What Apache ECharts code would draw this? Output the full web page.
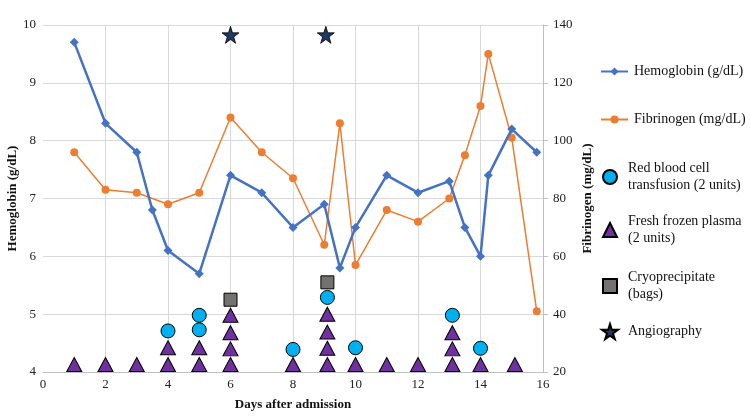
<!DOCTYPE html>
<html>
<head>
<meta charset="utf-8">
<script src="https://cdn.jsdelivr.net/npm/echarts@6/dist/echarts.min.js"></script>
<style>
  html, body { margin: 0; padding: 0; background: #fff; }
  #chart { width: 750px; height: 420px; }
</style>
</head>
<body>
<div id="chart"></div>
<script>
// hemoglobin (left axis, g/dL)
const hbDays = [1, 2, 3, 3.5, 4, 5, 6, 7, 8, 9, 9.5, 10, 11, 12, 13, 13.5, 14, 14.25, 15, 15.8];
const hbValues = [9.7, 8.3, 7.8, 6.8, 6.1, 5.7, 7.4, 7.1, 6.5, 6.9, 5.8, 6.5, 7.4, 7.1, 7.3, 6.5, 6.0, 7.4, 8.2, 7.8];
// fibrinogen (right axis, mg/dL)
const fibDays = [1, 2, 3, 4, 5, 6, 7, 8, 9, 9.5, 10, 11, 12, 13, 13.5, 14, 14.25, 15, 15.8];
const fibValues = [96, 83, 82, 78, 82, 108, 96, 87, 64, 106, 57, 76, 72, 80, 95, 112, 130, 101, 41];
// transfusion markers, stacked on left axis
const rbcDays = [4, 5, 5, 8, 9.1, 10, 13.1, 14];
const rbcLevels = [4.71, 4.73, 4.98, 4.39, 5.29, 4.42, 4.98, 4.41];
const ffpDays = [1, 2, 3, 4, 4, 5, 5, 6, 6, 6, 6, 8, 9.1, 9.1, 9.1, 9.1, 10, 11, 12, 13.1, 13.1, 13.1, 14, 15.1];
const ffpLevels = [4.13, 4.13, 4.13, 4.13, 4.42, 4.13, 4.42, 4.13, 4.4, 4.68, 4.98, 4.13, 4.13, 4.41, 4.69, 5.0, 4.13, 4.13, 4.13, 4.13, 4.4, 4.68, 4.13, 4.13];
const cryoDays = [6, 9.1];
const cryoLevels = [5.25, 5.55];
const angioDays = [6, 9.05];
const angioLevels = [9.83, 9.83];

const xTicks = [0, 16, 2];
const hbAxis = [4, 10, 1];
const fibAxis = [20, 140, 20];

const zip = (xs, ys) => xs.map((x, i) => [x, ys[i]]);
const serif = "Liberation Serif";
const starPath = "path://M50,0 L61,35 L98,35 L68,57 L79,91 L50,70 L21,91 L32,57 L2,35 L39,35 Z";

const names = {
  hb: "Hemoglobin (g/dL)",
  fib: "Fibrinogen (mg/dL)",
  rbc: "Red blood cell transfusion (2 units)",
  ffp: "Fresh frozen plasma (2 units)",
  cryo: "Cryoprecipitate (bags)",
  angio: "Angiography",
};
const legendText = {};
legendText[names.rbc] = "Red blood cell\ntransfusion (2 units)";
legendText[names.ffp] = "Fresh frozen plasma\n(2 units)";
legendText[names.cryo] = "Cryoprecipitate\n(bags)";

// legend box positions given as the icon's top-left, padding removed
const mkLegend = (name, left, top, w, h, pad) => ({
  data: [name],
  left: left,
  top: top,
  padding: 0,
  itemWidth: w,
  itemHeight: h,
  selectedMode: false,
  formatter: (n) => legendText[n] || n,
  textStyle: {
    fontFamily: serif,
    fontSize: 14,
    color: "#111",
    lineHeight: 17,
    padding: [0, 0, 0, pad],
  },
});

const titleStyle = { fontFamily: serif, fontSize: 13, fontWeight: "bold", color: "#111" };
const labelStyle = { fontFamily: serif, fontSize: 13, color: "#222" };

let myChart = echarts.init(document.getElementById("chart"));
myChart.setOption({
  animation: false,
  grid: { left: 43, right: 207, top: 25, bottom: 48, outerBoundsMode: "none" },
  legend: [
    mkLegend(names.hb, 600, 63, 27, 10, 1),
    mkLegend(names.fib, 600, 111, 27, 10, 1),
    mkLegend(names.rbc, 602, 160, 14, 14, 6),
    mkLegend(names.ffp, 602, 213, 14, 14, 6),
    mkLegend(names.cryo, 602, 269, 14, 14, 6),
    mkLegend(names.angio, 601, 323, 16, 16, 5),
  ],
  xAxis: {
    type: "value",
    min: xTicks[0],
    max: xTicks[1],
    interval: xTicks[2],
    name: "Days after admission",
    nameLocation: "middle",
    nameGap: 26,
    nameMoveOverlap: false,
    nameTextStyle: titleStyle,
    axisLine: { lineStyle: { color: "#BFBFBF" } },
    axisTick: { show: false },
    axisLabel: Object.assign({ margin: 6 }, labelStyle),
    splitLine: { show: true, showMinLine: false, lineStyle: { color: "#D9D9D9" } },
  },
  yAxis: [
    {
      type: "value",
      min: hbAxis[0],
      max: hbAxis[1],
      interval: hbAxis[2],
      name: "Hemoglobin (g/dL)",
      nameLocation: "middle",
      nameGap: 24,
      nameMoveOverlap: false,
      nameTextStyle: titleStyle,
      axisLine: { show: false },
      axisTick: { show: false },
      axisLabel: Object.assign({ margin: 7 }, labelStyle),
      splitLine: { show: true, lineStyle: { color: "#D9D9D9" } },
    },
    {
      type: "value",
      min: fibAxis[0],
      max: fibAxis[1],
      interval: fibAxis[2],
      position: "right",
      name: "Fibrinogen (mg/dL)",
      nameLocation: "middle",
      nameGap: 38,
      nameMoveOverlap: false,
      nameTextStyle: titleStyle,
      axisLine: { show: true, lineStyle: { color: "#BFBFBF" } },
      axisTick: { show: true, length: 5, lineStyle: { color: "#BFBFBF" } },
      axisLabel: Object.assign({ margin: 10 }, labelStyle),
      splitLine: { show: false },
    },
  ],
  series: [
    {
      name: names.hb,
      type: "line",
      yAxisIndex: 0,
      data: zip(hbDays, hbValues),
      symbol: "diamond",
      symbolSize: 9,
      lineStyle: { color: "#4472C4", width: 2.5 },
      itemStyle: { color: "#4472C4" },
      z: 3,
    },
    {
      name: names.fib,
      type: "line",
      yAxisIndex: 1,
      data: zip(fibDays, fibValues),
      symbol: "circle",
      symbolSize: 8,
      lineStyle: { color: "#ED7D31", width: 1.5 },
      itemStyle: { color: "#ED7D31" },
      z: 2,
    },
    {
      name: names.rbc,
      type: "scatter",
      yAxisIndex: 0,
      data: zip(rbcDays, rbcLevels),
      symbol: "circle",
      symbolSize: 14,
      itemStyle: { color: "#00B0F0", borderColor: "#000", borderWidth: 1, opacity: 1 },
      z: 5,
    },
    {
      name: names.ffp,
      type: "scatter",
      yAxisIndex: 0,
      data: zip(ffpDays, ffpLevels),
      symbol: "triangle",
      symbolSize: [15, 14],
      itemStyle: { color: "#7030A0", borderColor: "#000", borderWidth: 1, opacity: 1 },
      z: 4,
    },
    {
      name: names.cryo,
      type: "scatter",
      yAxisIndex: 0,
      data: zip(cryoDays, cryoLevels),
      symbol: "rect",
      symbolSize: 13,
      itemStyle: { color: "#767171", borderColor: "#000", borderWidth: 1, opacity: 1 },
      z: 6,
    },
    {
      name: names.angio,
      type: "scatter",
      yAxisIndex: 0,
      data: zip(angioDays, angioLevels),
      symbol: starPath,
      symbolSize: 17,
      itemStyle: { color: "#1F3864", borderColor: "#000", borderWidth: 0.8, opacity: 1 },
      z: 6,
    },
  ],
});
</script>
</body>
</html>
